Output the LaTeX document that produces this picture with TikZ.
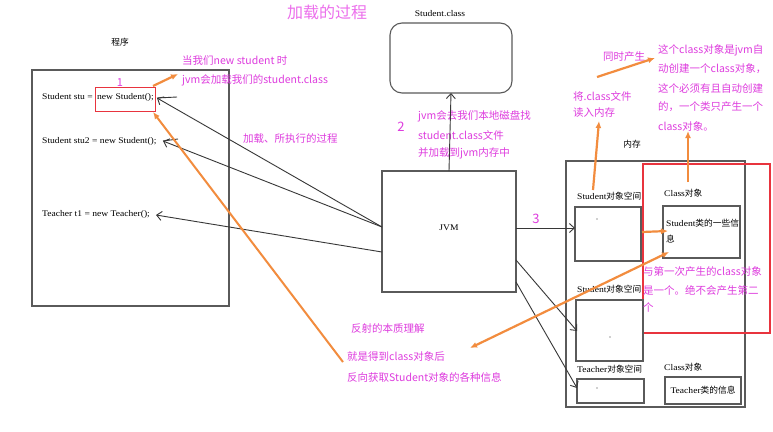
\documentclass[tikz,border=0pt]{standalone}
\usepackage{fontspec}
\setmainfont{Liberation Serif}
\newfontfamily\codef[FakeStretch=1.1]{Liberation Serif}
\newfontfamily\cjk{Noto Sans CJK SC}
\usetikzlibrary{arrows.meta,calc}
\definecolor{pinkc}{RGB}{222,60,222}
\definecolor{titlepink}{RGB}{236,110,236}
\definecolor{orng}{RGB}{242,140,62}
\definecolor{redb}{RGB}{232,52,62}
\definecolor{boxgray}{RGB}{90,90,90}
\definecolor{linegray}{RGB}{55,55,55}
\begin{document}
\begin{tikzpicture}[x=1pt,y=-1pt,
  box/.style={draw=boxgray,line width=1.1pt,inner sep=0,outer sep=0},
  ptext/.style={text=pinkc,font=\cjk\fontsize{10.5}{12}\selectfont,inner sep=0,anchor=west},
  code/.style={font=\codef\fontsize{8.7}{9}\selectfont,inner sep=0,anchor=west,text=black},
  blk/.style={draw=linegray,line width=0.9pt,-{Straight Barb[length=5pt,width=9pt]}},
  org/.style={draw=orng,line width=2.2pt,-{Latex[length=7pt,width=6pt]}}]
\useasboundingbox[fill=white] (0,0) rectangle (773,431);

% title
\node[text=titlepink,font=\cjk\fontsize{16}{18}\selectfont,inner sep=0] (title) at (327,12) {加载的过程};

% program box
\node[code,anchor=center] (prl) at (120,42) {\cjk 程序};
\node[box,minimum width=197,minimum height=236] (prog) at (130.5,188) {};
\node[code] (c1) at (42,97) {Student stu = };
\node[code] (c1b) at (97,97) {new Student();};
\node[draw=redb,line width=1pt,minimum width=60,minimum height=24,inner sep=0,outer sep=0] (redsmall) at (125,99) {};
\node[code] (c2) at (42,141) {Student stu2 = new Student();};
\node[code] (c3) at (42,214) {Teacher t1 = new Teacher();};
\node[text=pinkc,font=\cjk\fontsize{11}{12}\selectfont,inner sep=0] (n1) at (120,83) {1};

% notes
\node[ptext] (note1a) at (182,61) {当我们new student 时};
\node[ptext] (note1b) at (182,80) {jvm会加载我们的student.class};
\node[ptext] (load) at (243,139) {加载、所执行的过程};

% Student.class box
\node[code,anchor=center] (clsl) at (440,14) {Student.class};
\node[box,rounded corners=12pt,minimum width=122,minimum height=70] (cls) at (451,58) {};

% JVM
\node[box,minimum width=134,minimum height=121] (jvm) at (449,231.5) {};
\node[code,anchor=center] (jvml) at (449,228) {JVM};
\node[text=pinkc,font=\cjk\fontsize{13}{14}\selectfont,inner sep=0] (n2) at (401,127) {2};
\node[ptext] (j2a) at (418,116) {jvm会去我们本地磁盘找};
\node[ptext] (j2b) at (418,135) {student.class文件};
\node[ptext] (j2c) at (418,153) {并加载到jvm内存中};
\node[text=pinkc,font=\cjk\fontsize{13}{14}\selectfont,inner sep=0] (n3) at (536,219) {3};

% memory
\node[code,anchor=center] (meml) at (632,144) {\cjk 内存};
\node[box,minimum width=179,minimum height=246] (mem) at (655.5,284) {};
\node[draw=redb,line width=2pt,minimum width=127,minimum height=169,inner sep=0,outer sep=0] (redbig) at (706.5,248.5) {};
\node[code] (s1l) at (577,196) {Student{\cjk 对象空间}};
\node[box] (obj1) at (608,234) [minimum width=66,minimum height=54] {};
\node[code] (cl1) at (664,193) {Class{\cjk 对象}};
\node[box] (info1) at (701.5,232) [minimum width=77,minimum height=52] {};
\node[code] (i1a) at (666,223) {Student{\cjk 类的一些信}};
\node[code] (i1b) at (666,239) {\cjk 息};
\node[code] (s2l) at (577,289) {Student{\cjk 对象空间}};
\node[box] (obj2) at (609.5,330.5) [minimum width=67,minimum height=61] {};
\node[code] (tl) at (577,369) {Teacher{\cjk 对象空间}};
\node[box] (tobj) at (610.5,391) [minimum width=67,minimum height=24] {};
\node[code] (cl2) at (664,367) {Class{\cjk 对象}};
\node[box] (tinfo) at (703,390.5) [minimum width=76,minimum height=27] {};
\node[code,anchor=center] (til) at (703,390.5) {Teacher{\cjk 类的信息}};
\fill[linegray] (597,219) circle (0.6) (610,337) circle (0.6) (597,388) circle (0.6);

\node[ptext] (same1) at (643,272) {与第一次产生的class对象};
\node[ptext] (same2) at (643,290) {是一个。绝不会产生第二};
\node[ptext] (same3) at (643,307) {个};

% upper right notes
\node[ptext] (read1) at (573,96) {将.class文件};
\node[ptext] (read2) at (573,113) {读入内存};
\node[ptext] (sim) at (603,57) {同时产生};
\node[ptext] (cn1) at (658,50) {这个class对象是jvm自};
\node[ptext] (cn2) at (658,69) {动创建一个class对象，};
\node[ptext] (cn3) at (658,88) {这个必须有且自动创建};
\node[ptext] (cn4) at (658,107) {的，一个类只产生一个};
\node[ptext] (cn5) at (658,126) {class对象。};

% reflection notes
\node[ptext] (ref1) at (351,329) {反射的本质理解};
\node[ptext] (ref2) at (347,356) {就是得到class对象后};
\node[ptext] (ref3) at (347,377) {反向获取Student对象的各种信息};

% black connectors
\coordinate (j1) at (382,227);
\coordinate (j2) at (382,252);
\coordinate (a1) at (157,98);
\coordinate (a2) at (163,141);
\coordinate (a3) at (156,215);
\coordinate (t1) at (177,97);
\coordinate (t2) at (178,139);
\draw[blk] (j1) -- (a1);
\draw[blk] (j1) -- (a2);
\draw[blk] (j2) -- (a3);
\draw[draw=linegray,line width=0.9pt] (t1) -- (a1);
\draw[draw=linegray,line width=0.9pt] (t2) -- (a2);
\draw[blk] (jvm.north) -- (cls.south);
\coordinate (j3) at (516,228);
\coordinate (o1w) at (575,228);
\draw[blk] (j3) -- (o1w);
\coordinate (j4) at (516,260);
\coordinate (j5) at (516,282);
\coordinate (o2w) at (577,331);
\coordinate (tw) at (577,388);
\draw[blk] (j4) -- (o2w);
\draw[blk] (j5) -- (tw);

% orange connectors
\coordinate (r1) at (153,86);
\coordinate (r1e) at (178,74);
\draw[org] (r1) -- (r1e);
\coordinate (refs) at (343,362);
\coordinate (r2) at (153,112);
\draw[org,line width=2pt] (refs) -- (r2);
\coordinate (s1t) at (593,190);
\coordinate (rd) at (599,121);
\draw[org] (s1t) -- (rd);
\coordinate (sims) at (597,77);
\coordinate (sime) at (655,58);
\draw[org] (sims) -- (sime);
\coordinate (clt) at (688,182);
\coordinate (cnb) at (688,131);
\draw[org] (clt) -- (cnb);
\coordinate (o1e) at (642,232);
\coordinate (i1w) at (668,231);
\draw[org] (o1e) -- (i1w);
\coordinate (refa) at (470,348);
\coordinate (i1s) at (669,252);
\draw[org,{Latex[length=7pt,width=6pt]}-{Latex[length=7pt,width=6pt]}] (refa) -- (i1s);
\end{tikzpicture}
\end{document}
